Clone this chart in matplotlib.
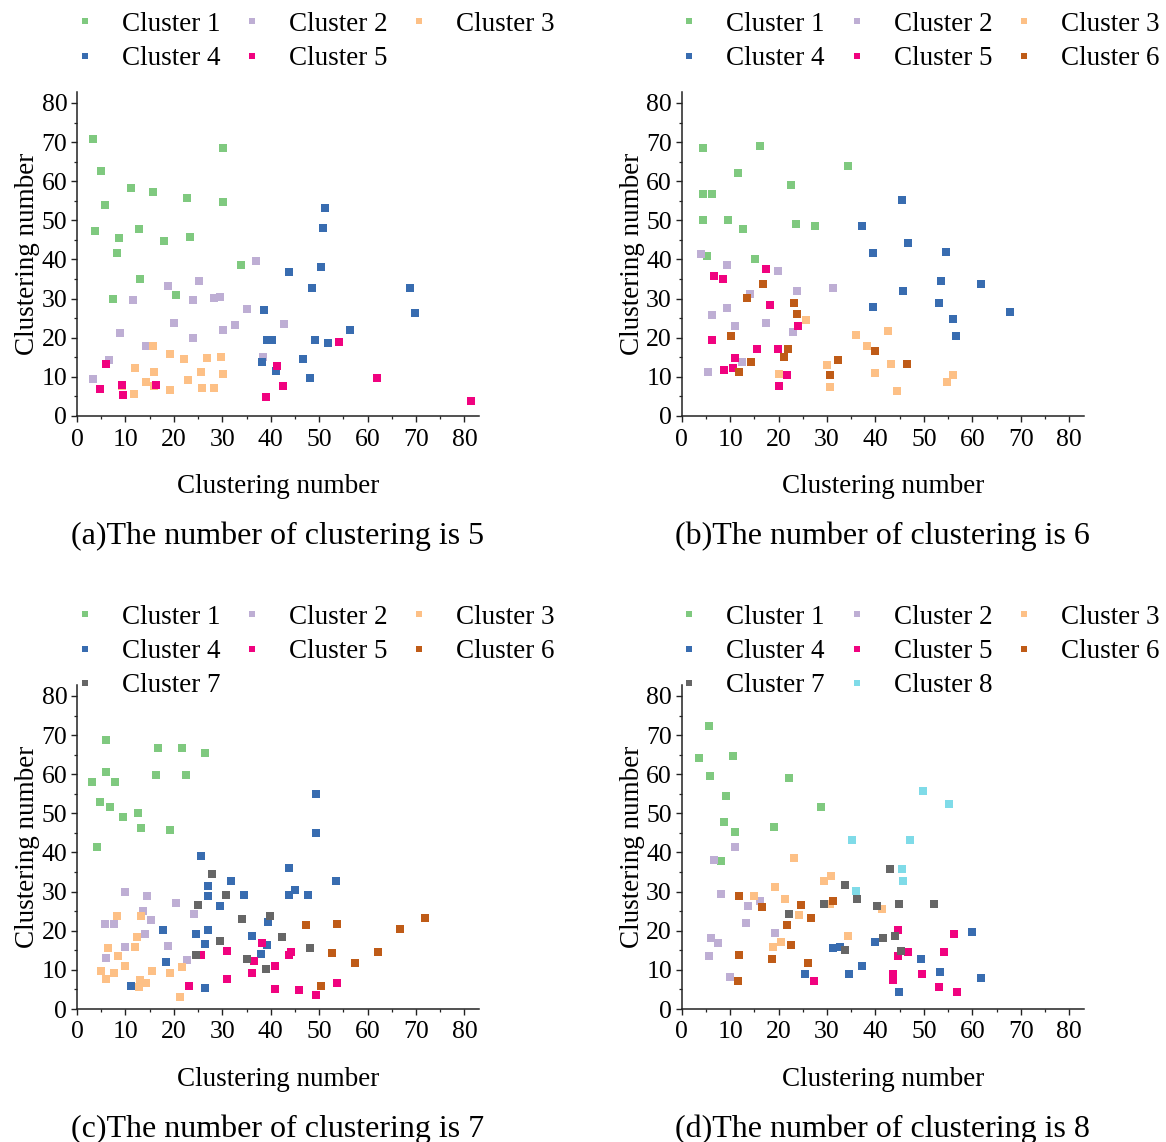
import matplotlib
matplotlib.use("Agg")
import matplotlib.pyplot as plt
from matplotlib.lines import Line2D
from matplotlib.ticker import MultipleLocator

plt.rcParams['font.family'] = ['Liberation Serif', 'DejaVu Serif']

# cluster colours (Accent-like palette, yellow skipped)
colors = ['#7fc97f', '#beaed4', '#fdc086', '#386cb0', '#f0027f', '#bf5b17', '#666666', '#7fdbe8']

# (a) 5 clusters
a1 = [(3.3, 70.8), (30.1, 68.4), (5.0, 62.6), (11.1, 58.2), (15.6, 57.3), (22.7, 55.7), (30.1, 54.8), (5.8, 54.0),
      (3.8, 47.3), (12.7, 47.7), (8.6, 45.4), (23.3, 45.7), (18.0, 44.6), (8.2, 41.7), (33.8, 38.6), (13.1, 34.9),
      (7.4, 29.9), (20.5, 31.0)]
a2 = [(37.0, 39.7), (18.8, 33.2), (25.2, 34.4), (11.5, 29.6), (23.9, 29.6), (28.3, 30.2), (29.5, 30.4), (35.2, 27.3),
      (20.0, 23.7), (42.8, 23.5), (32.7, 23.2), (30.1, 22.0), (8.9, 21.3), (24.0, 19.9), (14.2, 18.0), (38.3, 15.2),
      (6.6, 14.4), (3.3, 9.4)]
a3 = [(15.7, 18.0), (19.3, 15.8), (22.0, 14.6), (26.8, 14.9), (29.8, 15.2), (12.0, 12.2), (16.0, 11.3), (25.7, 11.3),
      (30.1, 10.7), (14.2, 8.7), (22.9, 9.1), (9.3, 7.7), (16.0, 7.7), (19.1, 6.6), (25.9, 7.2), (28.3, 7.2),
      (11.8, 5.5)]
a4 = [(51.2, 53.1), (50.8, 48.1), (50.4, 38.2), (43.7, 36.8), (48.6, 32.7), (68.8, 32.7), (69.8, 26.3), (38.6, 27.1),
      (56.4, 22.0), (39.2, 19.3), (40.3, 19.3), (49.2, 19.3), (51.9, 18.7), (38.1, 13.9), (46.6, 14.6), (41.1, 11.4),
      (48.1, 9.7)]
a5 = [(54.1, 19.0), (6.0, 13.4), (41.3, 12.8), (4.8, 6.9), (9.3, 8.0), (9.6, 5.3), (16.4, 7.9), (42.6, 7.7),
      (39.0, 4.9), (62.0, 9.7), (81.4, 3.9)]

# (b) 6 clusters
b1 = [(4.5, 68.5), (16.2, 68.9), (34.3, 63.9), (11.6, 62.0), (22.5, 59.1), (4.5, 56.8), (6.3, 56.8), (4.3, 50.0),
      (9.5, 50.0), (12.7, 47.9), (23.5, 49.0), (27.5, 48.5), (5.3, 40.8), (15.1, 40.1)]
b2 = [(4.0, 41.4), (9.3, 38.5), (19.9, 37.1), (31.2, 32.7), (23.8, 31.9), (14.1, 31.2), (9.3, 27.7), (6.3, 25.7),
      (17.4, 23.7), (11.1, 23.1), (22.9, 21.4), (12.4, 13.9), (5.5, 11.3)]
b3 = [(25.7, 24.6), (36.0, 20.8), (42.6, 21.8), (38.3, 17.9), (30.1, 13.0), (43.3, 13.2), (39.9, 11.0), (20.1, 10.7),
      (30.7, 7.3), (44.5, 6.5), (54.7, 8.8), (56.0, 10.6)]
b4 = [(45.4, 55.1), (37.3, 48.5), (46.8, 44.3), (39.4, 41.7), (54.5, 42.0), (53.6, 34.5), (61.8, 33.8), (45.7, 31.9),
      (39.4, 27.9), (53.1, 28.9), (67.7, 26.7), (56.0, 24.7), (56.7, 20.5)]
b5 = [(17.5, 37.5), (6.7, 35.9), (8.5, 34.9), (18.2, 28.3), (24.1, 23.1), (6.3, 19.5), (15.5, 17.2), (19.9, 17.2),
      (11.1, 14.8), (10.6, 12.3), (8.7, 11.7), (21.7, 10.4), (20.1, 7.7)]
b6 = [(16.7, 33.8), (13.5, 30.2), (23.2, 28.9), (23.8, 26.1), (10.1, 20.5), (22.0, 17.2), (21.2, 15.2), (14.3, 13.7),
      (11.9, 11.3), (32.2, 14.2), (39.9, 16.5), (46.6, 13.2), (30.7, 10.4)]

# (c) 7 clusters
c1 = [(6.0, 68.8), (16.8, 66.8), (21.6, 66.8), (26.5, 65.5), (6.0, 60.6), (3.0, 58.0), (7.8, 58.0), (16.3, 59.9),
      (22.6, 59.7), (4.7, 52.8), (6.8, 51.5), (9.4, 49.0), (12.6, 50.2), (13.3, 46.2), (19.1, 45.8), (4.2, 41.3)]
c2 = [(9.9, 29.9), (14.4, 28.9), (20.4, 27.2), (13.7, 25.1), (15.2, 22.7), (24.1, 24.3), (5.7, 21.7), (7.6, 21.7),
      (14.0, 19.1), (18.8, 16.2), (9.9, 15.8), (6.0, 13.1), (22.8, 12.5)]
c3 = [(8.2, 23.7), (13.3, 23.7), (12.3, 18.4), (6.5, 15.5), (12.0, 15.9), (8.4, 13.6), (9.9, 10.9), (4.9, 9.8),
      (7.6, 9.2), (6.0, 7.7), (15.5, 9.8), (19.1, 9.1), (21.6, 10.7), (13.1, 7.5), (14.3, 6.6), (12.9, 5.6),
      (21.3, 3.1)]
c4 = [(49.4, 55.0), (49.4, 44.9), (25.5, 39.0), (43.7, 36.0), (53.4, 32.8), (31.8, 32.6), (27.1, 31.5), (27.1, 28.9),
      (34.5, 29.2), (43.7, 29.2), (45.0, 30.5), (47.6, 29.2), (29.5, 26.2), (39.5, 22.3), (17.8, 20.1), (27.1, 20.1),
      (24.5, 19.1), (36.1, 18.7), (26.5, 16.6), (39.3, 16.3), (38.0, 14.1), (18.4, 12.1), (11.2, 6.0), (26.5, 5.3)]
c5 = [(38.1, 16.9), (31.0, 14.8), (25.6, 13.7), (36.5, 12.2), (44.2, 14.6), (43.7, 13.7), (40.9, 10.9), (36.1, 9.3),
      (31.0, 7.7), (23.1, 6.0), (40.9, 5.0), (45.8, 4.8), (49.3, 3.7), (53.6, 6.6)]
c6 = [(71.9, 23.3), (47.2, 21.4), (53.6, 21.6), (66.6, 20.4), (52.7, 14.2), (62.2, 14.5), (57.4, 11.7), (50.3, 6.0)]
c7 = [(27.9, 34.4), (30.8, 29.2), (25.0, 26.6), (39.9, 23.8), (34.0, 23.0), (42.4, 18.4), (29.5, 17.4), (48.1, 15.5),
      (24.5, 13.8), (35.0, 12.9), (39.1, 10.3)]

# (d) 8 clusters
d1 = [(5.6, 72.3), (3.6, 64.2), (10.6, 64.6), (5.8, 59.6), (22.2, 59.0), (9.2, 54.4), (28.7, 51.5), (8.7, 47.8),
      (11.1, 45.2), (19.0, 46.6), (8.2, 37.7)]
d2 = [(11.1, 41.3), (6.6, 38.0), (8.2, 29.5), (16.2, 27.7), (13.7, 26.2), (13.3, 22.0), (19.3, 19.3), (6.1, 18.1),
      (7.4, 16.8), (5.6, 13.5), (10.0, 8.3)]
d3 = [(23.2, 38.7), (30.9, 34.1), (29.4, 32.8), (19.3, 31.2), (15.0, 28.9), (21.4, 28.2), (30.7, 26.9), (24.3, 23.9),
      (41.3, 25.6), (34.3, 18.7), (20.4, 17.2), (18.9, 15.8)]
d4 = [(60.0, 19.7), (39.9, 17.1), (31.2, 15.5), (32.7, 15.8), (49.4, 12.9), (37.3, 10.9), (25.4, 8.9), (34.5, 8.9),
      (53.4, 9.5), (61.8, 7.9), (44.9, 4.3)]
d5 = [(44.7, 20.3), (56.3, 19.1), (44.6, 13.5), (46.8, 14.5), (54.1, 14.5), (49.7, 8.9), (43.6, 8.9), (43.6, 7.4),
      (27.3, 7.2), (53.1, 5.7), (56.8, 4.3)]
d6 = [(11.9, 28.9), (16.6, 26.0), (24.6, 26.6), (31.2, 27.6), (26.7, 23.3), (21.7, 21.4), (22.5, 16.4), (11.9, 13.8),
      (18.7, 12.9), (26.1, 11.8), (11.6, 7.2)]
d7 = [(43.1, 35.7), (33.8, 31.8), (36.2, 28.2), (29.4, 26.9), (40.4, 26.2), (44.9, 26.9), (52.0, 26.9), (22.2, 24.3),
      (41.5, 18.1), (44.1, 18.7), (33.8, 15.1), (45.2, 14.7)]
d8 = [(49.9, 55.7), (55.2, 52.4), (35.1, 43.3), (47.2, 43.3), (45.5, 35.7), (45.7, 32.8), (35.9, 30.2)]

captions = ['(a)The number of clustering is 5', '(b)The number of clustering is 6',
            '(c)The number of clustering is 7', '(d)The number of clustering is 8']

W, H = 1166, 1142
fig = plt.figure(figsize=(W / 100, H / 100), dpi=100)


def px_axes(left, top, width, height):
    # axes placed by pixel box (top-left origin)
    return fig.add_axes([left / W, (H - top - height) / H, width / W, height / H])


def draw_panel(ax, clusters, caption):
    for i, pts in enumerate(clusters):
        xs = [p[0] for p in pts]
        ys = [p[1] for p in pts]
        ax.plot(xs, ys, 's', color=colors[i], markersize=5.4, markeredgewidth=0, clip_on=False)
    ax.set_xlim(0, 83)
    ax.set_ylim(0, 82.8)
    for s in ['top', 'right']:
        ax.spines[s].set_visible(False)
    for s in ['left', 'bottom']:
        ax.spines[s].set_linewidth(1.1)
        ax.spines[s].set_color('#222222')
    ax.xaxis.set_major_locator(MultipleLocator(10))
    ax.xaxis.set_minor_locator(MultipleLocator(5))
    ax.yaxis.set_major_locator(MultipleLocator(10))
    ax.yaxis.set_minor_locator(MultipleLocator(5))
    ax.tick_params(which='major', direction='out', length=4, width=1.0, labelsize=18.5, pad=4, colors='#222222')
    ax.tick_params(which='minor', direction='out', length=2.5, width=0.9, colors='#222222')
    ax.tick_params(axis='x', labelcolor='black', pad=5)
    ax.tick_params(axis='y', labelcolor='black', pad=3)
    ax.set_xlabel('Clustering number', fontsize=19.5, labelpad=17)
    ax.set_ylabel('Clustering number', fontsize=19.5, labelpad=1)

    # legend laid out row by row, three per row
    n = len(clusters)
    handles = [Line2D([], [], marker='s', linestyle='none', color=colors[i], markersize=4.3, markeredgewidth=0)
               for i in range(n)]
    labels = ['Cluster %d' % (i + 1) for i in range(n)]
    order = [i for c in range(3) for i in range(c, n, 3)]
    ax.legend([handles[i] for i in order], [labels[i] for i in order], ncol=3, loc='upper left',
              bbox_to_anchor=(-0.0145, 1.247), frameon=False, fontsize=19.5, borderpad=0, borderaxespad=0,
              handlelength=1.0, handletextpad=0.86, columnspacing=0.68, labelspacing=0.34, numpoints=1)

    ax.text(0.5, -0.372, caption, transform=ax.transAxes, ha='center', va='center', fontsize=23)


boxes = [(77, 92), (681.7, 92), (77, 685), (681.7, 685)]
panels = [[a1, a2, a3, a4, a5], [b1, b2, b3, b4, b5, b6], [c1, c2, c3, c4, c5, c6, c7],
          [d1, d2, d3, d4, d5, d6, d7, d8]]
for (l, t), clusters, cap in zip(boxes, panels, captions):
    ax = px_axes(l, t, 402, 324)
    draw_panel(ax, clusters, cap)

fig.savefig('out.png', dpi=100)
